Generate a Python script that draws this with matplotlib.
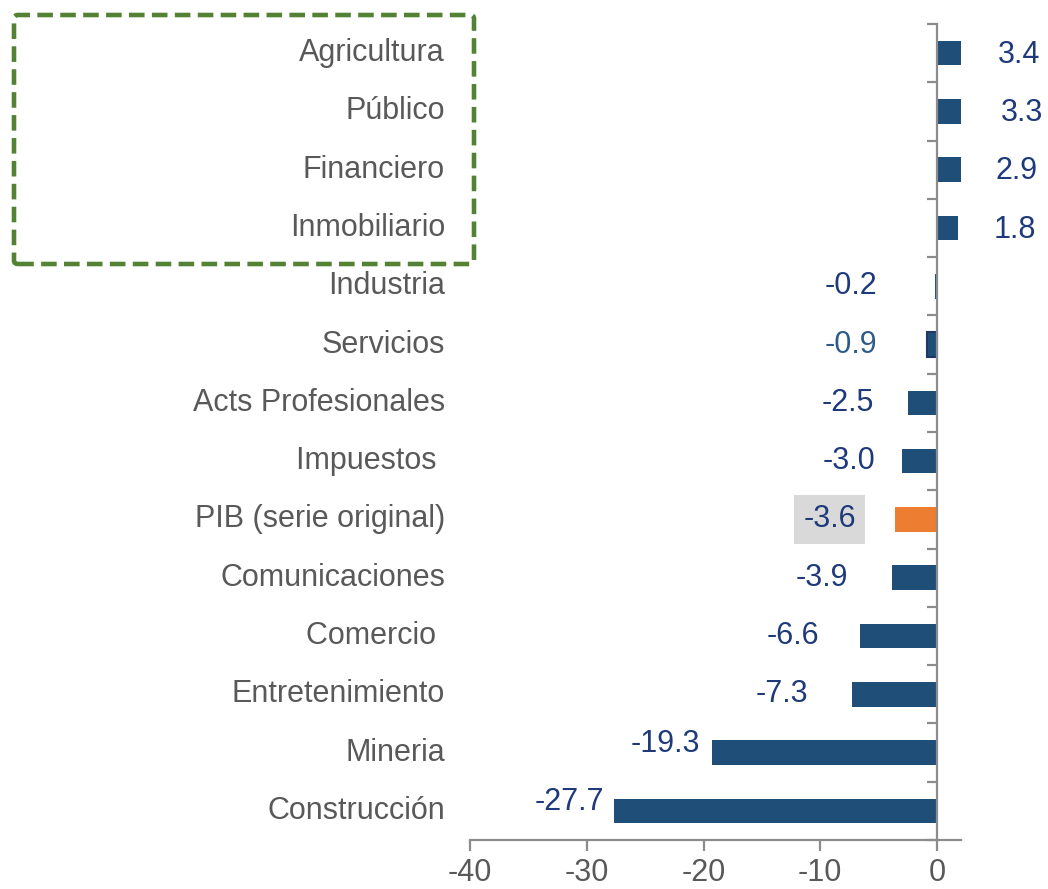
import matplotlib
matplotlib.use("Agg")
import matplotlib.pyplot as plt
import matplotlib.transforms as mtransforms
from matplotlib.patches import FancyBboxPatch

plt.rcParams["font.family"] = ["Liberation Sans", "DejaVu Sans"]

sectores = ["Agricultura", "Público", "Financiero", "Inmobiliario", "Industria",
            "Servicios", "Acts Profesionales", "Impuestos ", "PIB (serie original)",
            "Comunicaciones", "Comercio ", "Entretenimiento", "Mineria", "Construcción"]
valores = [3.4, 3.3, 2.9, 1.8, -0.2, -0.9, -2.5, -3.0, -3.6, -3.9, -6.6, -7.3, -19.3, -27.7]
pib_idx = 8
# where each value label sits (right edge for negatives, centre for positives)
label_x = [7.0, 7.3, 6.8, 6.7, -5.1, -5.1, -5.4, -5.3, -9.2, -7.6, -10.1, -11.0, -20.3, -28.5]

bar_col = "#1F4E79"
txt_col = "#1F3A7A"
grey = "#595959"
axis_col = "#8C8C8C"

fig = plt.figure(figsize=(10.48, 8.89), dpi=100)
ax = fig.add_axes([470 / 1048, 1 - 840 / 889, (961 - 470) / 1048, (840 - 24) / 889])

n = len(sectores)
ys = list(range(n))
colors = [bar_col] * n
colors[pib_idx] = "#ED7D31"
bars = ax.barh(ys, valores, height=0.42, color=colors, zorder=2)
bars[5].set_edgecolor("#1F3864")
bars[5].set_linewidth(1.5)

ax.set_xlim(-40, 2.05)
ax.set_ylim(n - 0.5, -0.5)

# spines
for s in ["top", "right"]:
    ax.spines[s].set_visible(False)
ax.spines["left"].set_position(("data", 0))
ax.spines["left"].set_color(axis_col)
ax.spines["left"].set_linewidth(1.6)
ax.spines["bottom"].set_color(axis_col)
ax.spines["bottom"].set_linewidth(1.6)
ax.spines["left"].set_zorder(3)

ax.set_xticks([-40, -30, -20, -10, 0])
ax.set_xticklabels(["-40", "-30", "-20", "-10", "0"])
ax.tick_params(axis="x", length=8, width=1.6, color=axis_col, labelsize=22,
               labelcolor=grey, pad=5)
ax.set_yticks([])
ax.set_yticks([i - 0.5 for i in range(n + 1)], minor=True)
ax.tick_params(axis="y", which="minor", length=7, width=1.6, color=axis_col,
               labelleft=False)

trans = mtransforms.blended_transform_factory(ax.transAxes, ax.transData)
for i, name in enumerate(sectores):
    ax.text(-0.051, i, name, transform=trans, ha="right", va="center",
            fontsize=22, color=grey)

for i, v in enumerate(valores):
    lab = f"{v:.1f}"
    if v > 0:
        ax.text(label_x[i], i + 0.03, lab, ha="center", va="center", fontsize=22,
                color=txt_col, clip_on=False)
    elif i == pib_idx:
        ax.text(label_x[i], i, lab, ha="center", va="center", fontsize=22, color=txt_col,
                bbox=dict(boxstyle="square,pad=0.3", facecolor="#D9D9D9", edgecolor="none"))
    else:
        c = "#2E5C8A" if i == 5 else txt_col
        dy = -0.15 if v < -10 else 0
        ax.text(label_x[i], i + dy, lab, ha="right", va="center", fontsize=22, color=c)

# dashed highlight box around positive sectors
box = FancyBboxPatch((14 / 1048, 1 - 264 / 889), (474 - 14) / 1048, (264 - 15) / 889,
                     boxstyle="round,pad=0,rounding_size=0.004", transform=fig.transFigure,
                     fill=False, edgecolor="#548235", linewidth=3.3, linestyle=(0, (3.4, 1.6)))
fig.patches.append(box)

fig.savefig("out.png", dpi=100)
